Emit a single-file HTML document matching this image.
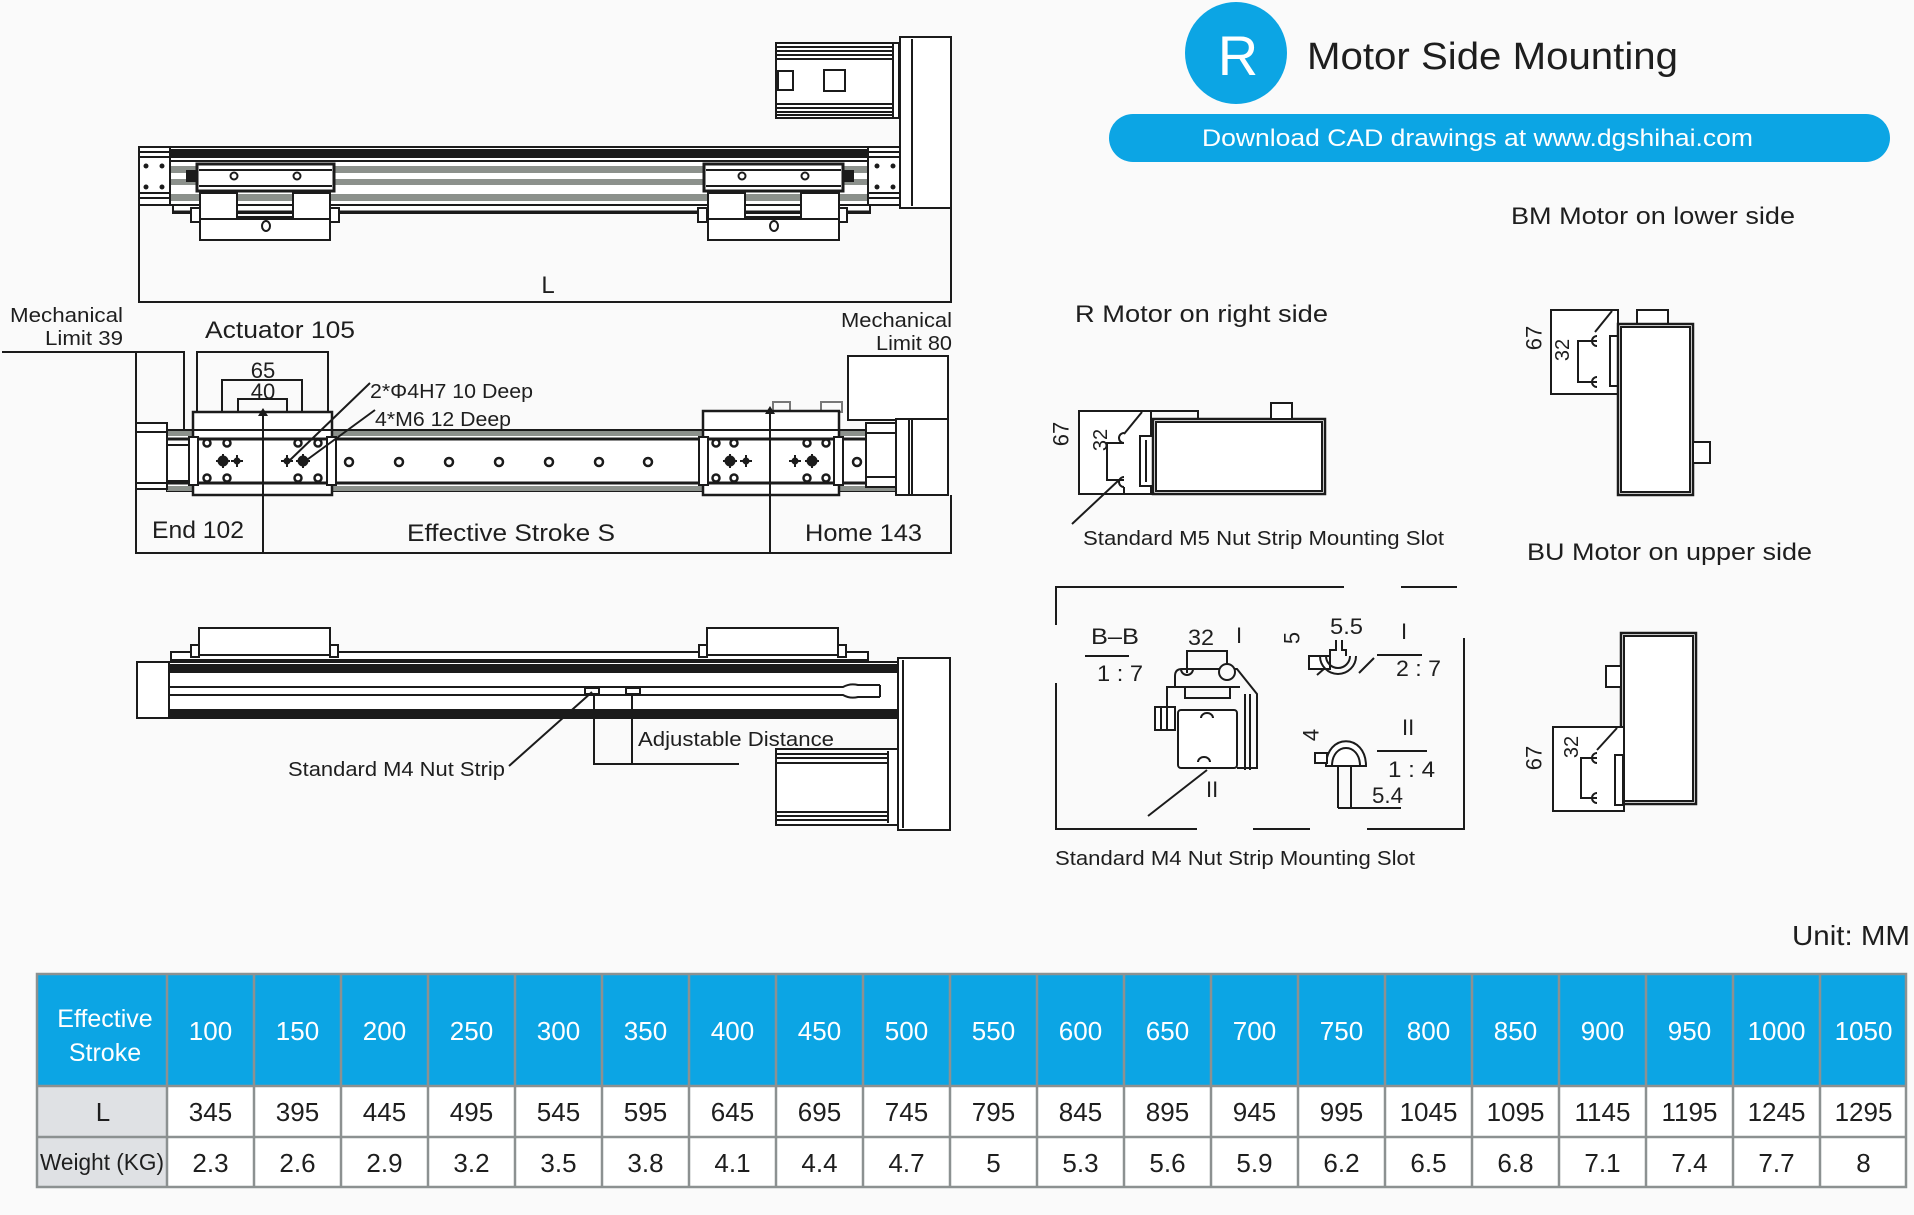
<!DOCTYPE html>
<html><head><meta charset="utf-8"><style>
html,body{margin:0;padding:0;background:#fafafa;}
svg{display:block;}
text{font-family:"Liberation Sans",sans-serif;fill:#1e1e1e;}
</style></head><body>
<svg width="1914" height="1215" viewBox="0 0 1914 1215" xmlns="http://www.w3.org/2000/svg">
<rect width="1914" height="1215" fill="#fafafa"/>

<!-- ================= TOP DRAWING ================= -->
<g stroke="#1b1b1b" stroke-width="2" fill="none">
  <!-- motor housing -->
  <rect x="776" y="43" width="123" height="75" fill="#fff"/>
  <path d="M776 47H893M776 51H893M776 55H893M776 59H893M776 104H893M776 108H893M776 112H893M776 115H893"/>
  <rect x="778" y="71" width="15" height="19"/>
  <rect x="824" y="70" width="21" height="21"/>
  <line x1="893" y1="44" x2="893" y2="117"/>
  <!-- plate -->
  <rect x="900" y="37" width="51" height="171" fill="#fff"/>
  <line x1="912" y1="39" x2="912" y2="206"/>
  <!-- rail -->
  <rect x="139" y="147" width="761" height="58" fill="#fff"/>
  <rect x="170" y="150" width="698" height="7" fill="#1b1b1b"/>
  <line x1="170" y1="161" x2="868" y2="161"/>
  <rect x="170" y="166" width="698" height="7" fill="#8c918c" stroke="none"/>
  <rect x="170" y="179" width="698" height="6" fill="#8c918c" stroke="none"/>
  <rect x="170" y="194" width="698" height="7" fill="#8c918c" stroke="none"/>
  <rect x="173" y="205" width="697" height="8" fill="#fff"/>
  <line x1="173" y1="212" x2="870" y2="212" stroke-width="3"/>
  <!-- end caps -->
  <rect x="139" y="147" width="31" height="58" fill="#fff"/>
  <path d="M139 152H170M139 157H170M139 193H170M139 198H170"/>
  <rect x="868" y="147" width="32" height="58" fill="#fff"/>
  <path d="M868 152H900M868 157H900M868 193H900M868 198H900"/>
</g>
<g fill="#1b1b1b">
  <circle cx="146" cy="166" r="2.5"/><circle cx="162" cy="166" r="2.5"/>
  <circle cx="146" cy="187" r="2.5"/><circle cx="162" cy="187" r="2.5"/>
  <circle cx="877" cy="166" r="2.5"/><circle cx="893" cy="166" r="2.5"/>
  <circle cx="877" cy="187" r="2.5"/><circle cx="893" cy="187" r="2.5"/>
</g>
<!-- carriages top view -->
<g stroke="#1b1b1b" stroke-width="2" fill="#fff">
  <g>
    <rect x="187" y="171" width="10" height="10" fill="#1b1b1b"/>
    <rect x="197" y="164" width="137" height="27" stroke-width="3"/>
    <line x1="199" y1="170" x2="332" y2="170"/>
    <line x1="199" y1="186" x2="332" y2="186"/>
    <circle cx="234" cy="176" r="3.5"/><circle cx="297" cy="176" r="3.5"/>
    <rect x="191" y="208" width="9" height="14"/><rect x="330" y="208" width="9" height="14"/>
    <path d="M200 193H237V217H293V193H330V240H200Z"/>
    <line x1="200" y1="219" x2="330" y2="219"/>
    <ellipse cx="266" cy="226" rx="4" ry="5"/>
  </g>
  <g>
    <rect x="843" y="171" width="10" height="10" fill="#1b1b1b"/>
    <rect x="704" y="164" width="139" height="27" stroke-width="3"/>
    <line x1="706" y1="170" x2="841" y2="170"/>
    <line x1="706" y1="186" x2="841" y2="186"/>
    <circle cx="742" cy="176" r="3.5"/><circle cx="805" cy="176" r="3.5"/>
    <rect x="698" y="208" width="9" height="14"/><rect x="838" y="208" width="9" height="14"/>
    <path d="M708 193H745V217H801V193H839V240H708Z"/>
    <line x1="708" y1="219" x2="839" y2="219"/>
    <ellipse cx="774" cy="226" rx="4" ry="5"/>
  </g>
</g>
<!-- L dimension -->
<g stroke="#1b1b1b" stroke-width="2">
  <line x1="139" y1="205" x2="139" y2="303"/>
  <line x1="951" y1="208" x2="951" y2="303"/>
  <line x1="138" y1="302" x2="952" y2="302"/>
</g>
<text x="548" y="293" font-size="24" text-anchor="middle">L</text>

<!-- ================= MIDDLE DRAWING ================= -->
<text x="123" y="322" font-size="20" text-anchor="end" textLength="113" lengthAdjust="spacingAndGlyphs">Mechanical</text>
<text x="123" y="345" font-size="20" text-anchor="end" textLength="78" lengthAdjust="spacingAndGlyphs">Limit 39</text>
<text x="205" y="338" font-size="24" textLength="150" lengthAdjust="spacingAndGlyphs">Actuator 105</text>
<text x="952" y="327" font-size="20" text-anchor="end" textLength="111" lengthAdjust="spacingAndGlyphs">Mechanical</text>
<text x="952" y="350" font-size="20" text-anchor="end" textLength="76" lengthAdjust="spacingAndGlyphs">Limit 80</text>
<text x="263" y="378" font-size="22" text-anchor="middle">65</text>
<text x="263" y="399" font-size="22" text-anchor="middle">40</text>
<text x="370" y="398" font-size="20" textLength="163" lengthAdjust="spacingAndGlyphs">2*Φ4H7  10 Deep</text>
<text x="375" y="426" font-size="20" textLength="136" lengthAdjust="spacingAndGlyphs">4*M6  12 Deep</text>

<g stroke="#1b1b1b" stroke-width="2" fill="none">
  <path d="M2 352H184V433"/>
  <line x1="136" y1="352" x2="136" y2="554"/>
  <path d="M197 412V352H328V412"/>
  <path d="M222 461V380H302V461"/>
  <path d="M238 461V399H287V461"/>
  <!-- mech limit 80 -->
  <rect x="848" y="356" width="100" height="64" fill="#fff"/>
  <!-- rail -->
  <rect x="167" y="430" width="732" height="61" fill="#fff"/>
  <rect x="167" y="431" width="732" height="5" fill="#8c918c" stroke="none"/>
  <rect x="167" y="486" width="732" height="5" fill="#8c918c" stroke="none"/>
  <line x1="167" y1="439" x2="866" y2="439" stroke-width="3"/>
  <line x1="167" y1="483" x2="866" y2="483" stroke-width="3"/>
  <!-- left cap -->
  <rect x="136" y="423" width="31" height="66" fill="#fff"/>
  <path d="M136 432H167M136 483H167"/>
  <rect x="167" y="445" width="22" height="36" fill="#fff"/>
  <!-- carriages -->
  <rect x="193" y="412" width="139" height="83" fill="#fff" stroke-width="2.5"/>
  <line x1="193" y1="430" x2="332" y2="430"/>
  <path d="M195 439H330M195 483H330" stroke-width="3"/>
  <rect x="189" y="437" width="9" height="48" fill="#fff"/>
  <rect x="327" y="437" width="9" height="48" fill="#fff"/>
  <rect x="773" y="402" width="17" height="10" stroke="#777"/>
  <rect x="821" y="402" width="21" height="10" stroke="#777"/>
  <rect x="703" y="411" width="136" height="84" fill="#fff" stroke-width="2.5"/>
  <line x1="703" y1="430" x2="839" y2="430"/>
  <path d="M705 439H837M705 483H837" stroke-width="3"/>
  <rect x="699" y="437" width="9" height="48" fill="#fff"/>
  <rect x="834" y="437" width="9" height="48" fill="#fff"/>
  <!-- coupling & motor plate -->
  <rect x="866" y="423" width="30" height="64" fill="#fff"/>
  <path d="M866 433H896M866 477H896"/>
  <rect x="896" y="419" width="52" height="76" fill="#fff"/>
  <path d="M909 419V495M912 419V495"/>
  <!-- arrows -->
  <line x1="263" y1="413" x2="263" y2="554"/>
  <line x1="770" y1="411" x2="770" y2="554"/>
  <!-- bottom dims -->
  <line x1="135" y1="553" x2="952" y2="553"/>
  <line x1="951" y1="495" x2="951" y2="554"/>
  <!-- leaders -->
  <line x1="370" y1="383" x2="289" y2="461"/>
  <line x1="375" y1="410" x2="304" y2="462"/>
</g>
<path d="M263 408L258 416H268Z M770 406L765 414H775Z" fill="#1b1b1b"/>
<g stroke="#1b1b1b" stroke-width="2.5" fill="#fff">
  <circle cx="349" cy="462" r="4"/><circle cx="399" cy="462" r="4"/><circle cx="449" cy="462" r="4"/>
  <circle cx="499" cy="462" r="4"/><circle cx="549" cy="462" r="4"/><circle cx="599" cy="462" r="4"/>
  <circle cx="648" cy="462" r="4"/><circle cx="857" cy="462" r="4"/>
  <circle cx="207" cy="443" r="3.5"/><circle cx="227" cy="443" r="3.5"/><circle cx="298" cy="443" r="3.5"/><circle cx="318" cy="443" r="3.5"/>
  <circle cx="207" cy="478" r="3.5"/><circle cx="227" cy="478" r="3.5"/><circle cx="298" cy="478" r="3.5"/><circle cx="318" cy="478" r="3.5"/>
  <circle cx="716" cy="443" r="3.5"/><circle cx="734" cy="443" r="3.5"/><circle cx="807" cy="443" r="3.5"/><circle cx="826" cy="443" r="3.5"/>
  <circle cx="716" cy="478" r="3.5"/><circle cx="734" cy="478" r="3.5"/><circle cx="807" cy="478" r="3.5"/><circle cx="826" cy="478" r="3.5"/>
</g>
<g fill="#1b1b1b" stroke="#1b1b1b" stroke-width="2">
  <circle cx="223" cy="461" r="4.5"/><path d="M216 461H230M223 454V468"/>
  <circle cx="237" cy="461" r="2.5"/><path d="M231 461H243M237 455V467"/>
  <circle cx="287" cy="461" r="2.5"/><path d="M281 461H293M287 455V467"/>
  <circle cx="303" cy="461" r="4.5"/><path d="M296 461H310M303 454V468"/>
  <circle cx="730" cy="461" r="4.5"/><path d="M723 461H737M730 454V468"/>
  <circle cx="746" cy="461" r="2.5"/><path d="M740 461H752M746 455V467"/>
  <circle cx="795" cy="461" r="2.5"/><path d="M789 461H801M795 455V467"/>
  <circle cx="812" cy="461" r="4.5"/><path d="M805 461H819M812 454V468"/>
</g>
<text x="152" y="538" font-size="24" textLength="92" lengthAdjust="spacingAndGlyphs">End 102</text>
<text x="407" y="541" font-size="24" textLength="208" lengthAdjust="spacingAndGlyphs">Effective Stroke S</text>
<text x="805" y="541" font-size="24" textLength="117" lengthAdjust="spacingAndGlyphs">Home 143</text>

<!-- ================= BOTTOM DRAWING ================= -->
<g stroke="#1b1b1b" stroke-width="2" fill="#fff">
  <!-- carriages -->
  <rect x="171" y="652" width="697" height="8"/>
  <rect x="199" y="628" width="131" height="27"/>
  <rect x="191" y="645" width="8" height="12"/><rect x="330" y="645" width="8" height="12"/>
  <rect x="707" y="628" width="131" height="27"/>
  <rect x="699" y="645" width="8" height="12"/><rect x="838" y="645" width="8" height="12"/>
  <!-- rail -->
  <rect x="137" y="662" width="761" height="56"/>
  <rect x="137" y="662" width="32" height="56"/>
  <rect x="169" y="665" width="729" height="7" fill="#1b1b1b"/>
  <rect x="169" y="710" width="729" height="6" fill="#1b1b1b"/>
  <path d="M169 687H843Q850 683 858 685H880M169 695H843Q850 699 858 697H880" fill="none"/>
  <line x1="880" y1="685" x2="880" y2="697"/>
  <rect x="585" y="688" width="14" height="6"/>
  <rect x="626" y="688" width="14" height="6"/>
  <!-- motor housing -->
  <rect x="776" y="749" width="122" height="76"/>
  <path d="M776 754H888M776 758H888M776 763H888M776 812H888M776 816H888M776 820H888M888 751V823" fill="none"/>
  <!-- plate -->
  <rect x="898" y="658" width="52" height="172"/>
  <line x1="903" y1="660" x2="903" y2="828"/>
</g>
<g stroke="#1b1b1b" stroke-width="2" fill="none">
  <line x1="592" y1="692" x2="509" y2="766"/>
  <path d="M594 694V764H739"/>
  <line x1="632" y1="694" x2="632" y2="764"/>
</g>
<text x="288" y="776" font-size="20" textLength="217" lengthAdjust="spacingAndGlyphs">Standard M4 Nut Strip</text>
<text x="638" y="746" font-size="20" textLength="196" lengthAdjust="spacingAndGlyphs">Adjustable Distance</text>

<!-- ================= HEADER RIGHT ================= -->
<circle cx="1236" cy="53" r="51" fill="#0ca5e4"/>
<text x="1238" y="75" font-size="56" text-anchor="middle" style="fill:#fff">R</text>
<text x="1307" y="69" font-size="38" textLength="371" lengthAdjust="spacingAndGlyphs">Motor Side Mounting</text>
<rect x="1109" y="114" width="781" height="48" rx="24" fill="#0ca5e4"/>
<text x="1202" y="146" font-size="24" textLength="551" lengthAdjust="spacingAndGlyphs" style="fill:#fff">Download CAD drawings at www.dgshihai.com</text>

<text x="1511" y="224" font-size="24" textLength="284" lengthAdjust="spacingAndGlyphs">BM   Motor on lower side</text>
<text x="1075" y="322" font-size="24" textLength="253" lengthAdjust="spacingAndGlyphs">R   Motor on right side</text>
<text x="1527" y="560" font-size="24" textLength="285" lengthAdjust="spacingAndGlyphs">BU   Motor on upper side</text>
<text x="1083" y="545" font-size="20" textLength="361" lengthAdjust="spacingAndGlyphs">Standard M5 Nut Strip Mounting Slot</text>
<text x="1055" y="865" font-size="20" textLength="360" lengthAdjust="spacingAndGlyphs">Standard M4 Nut Strip Mounting Slot</text>

<!-- R drawing -->
<g stroke="#1b1b1b" stroke-width="2" fill="none">
  <rect x="1079" y="411" width="72" height="83" fill="#fff"/>
  <rect x="1151" y="411" width="47" height="8"/>
  <line x1="1142" y1="412" x2="1124" y2="434"/>
  <path d="M1124 433A5 5 0 0 0 1124 443M1124 477A5 5 0 0 0 1124 487"/>
  <path d="M1124 443H1107V480H1124"/>
  <line x1="1124" y1="487" x2="1124" y2="494"/>
  <rect x="1140" y="436" width="13" height="50" fill="#fff"/>
  <line x1="1146" y1="440" x2="1146" y2="482"/>
  <rect x="1153" y="419" width="172" height="75" fill="#fff" stroke-width="2.5"/>
  <rect x="1156" y="422" width="166" height="69"/>
  <rect x="1271" y="403" width="21" height="16" fill="#fff"/>
  <line x1="1072" y1="524" x2="1119" y2="480"/>
</g>
<text x="1061" y="434" font-size="22" text-anchor="middle" dominant-baseline="central" transform="rotate(-90 1061 434)">67</text>
<text x="1101" y="440" font-size="20" text-anchor="middle" dominant-baseline="central" transform="rotate(-90 1101 440)">32</text>

<!-- BM drawing -->
<g stroke="#1b1b1b" stroke-width="2" fill="none">
  <rect x="1551" y="310" width="67" height="84" fill="#fff"/>
  <rect x="1637" y="310" width="31" height="14" fill="#fff"/>
  <line x1="1612" y1="311" x2="1595" y2="332"/>
  <path d="M1597 336A5 5 0 0 0 1597 346M1597 377A5 5 0 0 0 1597 387"/>
  <path d="M1597 341H1578V382H1597"/>
  <rect x="1610" y="336" width="8" height="50" fill="#fff"/>
  <rect x="1618" y="324" width="75" height="171" fill="#fff" stroke-width="2.5"/>
  <rect x="1621" y="327" width="69" height="165"/>
  <rect x="1693" y="442" width="17" height="21" fill="#fff"/>
</g>
<text x="1534" y="338" font-size="22" text-anchor="middle" dominant-baseline="central" transform="rotate(-90 1534 338)">67</text>
<text x="1563" y="350" font-size="20" text-anchor="middle" dominant-baseline="central" transform="rotate(-90 1563 350)">32</text>

<!-- BU drawing -->
<g stroke="#1b1b1b" stroke-width="2" fill="none">
  <rect x="1621" y="633" width="75" height="171" fill="#fff" stroke-width="2.5"/>
  <rect x="1624" y="636" width="69" height="165"/>
  <rect x="1606" y="666" width="15" height="21" fill="#fff"/>
  <rect x="1553" y="727" width="71" height="84" fill="#fff"/>
  <line x1="1617" y1="728" x2="1597" y2="750"/>
  <path d="M1597 753A5 5 0 0 0 1597 763M1597 793A5 5 0 0 0 1597 803"/>
  <path d="M1597 758H1581V798H1597"/>
  <rect x="1615" y="755" width="8" height="50" fill="#fff"/>
</g>
<text x="1534" y="758" font-size="22" text-anchor="middle" dominant-baseline="central" transform="rotate(-90 1534 758)">67</text>
<text x="1572" y="747" font-size="20" text-anchor="middle" dominant-baseline="central" transform="rotate(-90 1572 747)">32</text>

<!-- B-B section frame -->
<g stroke="#1b1b1b" stroke-width="2" fill="none">
  <path d="M1056 625V587H1344"/>
  <path d="M1401 587H1457"/>
  <path d="M1056 683V829H1197"/>
  <path d="M1253 829H1310"/>
  <path d="M1367 829H1464V638"/>
  <!-- BB labels underline -->
  <line x1="1085" y1="656" x2="1129" y2="656"/>
  <line x1="1377" y1="655" x2="1422" y2="655"/>
  <line x1="1377" y1="751" x2="1427" y2="751"/>
  <!-- 32 dim -->
  <path d="M1187 673V651H1227V673"/>
  <!-- section -->
  <path d="M1167 713V687H1175V676Q1175 669 1182 669H1237L1257 694V768H1237"/>
  <circle cx="1227" cy="672" r="8" fill="#fafafa"/>
  <path d="M1181 669A6 6 0 0 0 1193 669"/>
  <path d="M1175 687H1240M1185 687V698H1230V687"/>
  <path d="M1245 694V770M1250 694V770"/>
  <rect x="1178" y="710" width="59" height="58" rx="3" fill="#fff"/>
  <path d="M1201 718A6 5 0 0 1 1213 718M1198 762A6 5 0 0 1 1210 762"/>
  <rect x="1155" y="707" width="20" height="23" fill="#fff"/>
  <path d="M1161 707V730M1167 707V730"/>
  <line x1="1207" y1="770" x2="1148" y2="816"/>
  <!-- detail I -->
  <rect x="1309" y="656" width="21" height="13" fill="#fff"/>
  <path d="M1320 656A18 18 0 0 0 1356 656"/>
  <path d="M1326 656A12 12 0 0 0 1350 656"/>
  <path d="M1330 656V650H1336V640M1346 656V650H1342V640"/>
  <path d="M1317 675L1325 668M1359 673L1374 658"/>
  <!-- detail II -->
  <path d="M1326 766C1326 733 1366 733 1366 766Z" fill="#fff"/>
  <path d="M1332 766C1332 742 1360 742 1360 766"/>
  <rect x="1315" y="753" width="12" height="10" fill="#fff"/>
  <path d="M1338 766V808M1351 766V808"/>
  <line x1="1338" y1="808" x2="1401" y2="808"/>
</g>
<g font-size="22">
  <text x="1091" y="644" textLength="48" lengthAdjust="spacingAndGlyphs">B–B</text>
  <text x="1097" y="681" textLength="46" lengthAdjust="spacingAndGlyphs">1 : 7</text>
  <text x="1188" y="645" textLength="26" lengthAdjust="spacingAndGlyphs">32</text>
  <text x="1236" y="643">I</text>
  <text x="1330" y="634" textLength="33" lengthAdjust="spacingAndGlyphs">5.5</text>
  <text x="1401" y="639">I</text>
  <text x="1396" y="676" textLength="45" lengthAdjust="spacingAndGlyphs">2 : 7</text>
  <text x="1402" y="735">II</text>
  <text x="1388" y="777" textLength="47" lengthAdjust="spacingAndGlyphs">1 : 4</text>
  <text x="1372" y="803" textLength="31" lengthAdjust="spacingAndGlyphs">5.4</text>
  <text x="1206" y="797">II</text>
  <text x="1292" y="638" text-anchor="middle" dominant-baseline="central" transform="rotate(-90 1292 638)">5</text>
  <text x="1311" y="735" text-anchor="middle" dominant-baseline="central" transform="rotate(-90 1311 735)">4</text>
</g>

<!-- ================= TABLE ================= -->
<text x="1910" y="945" font-size="28" text-anchor="end" textLength="118" lengthAdjust="spacingAndGlyphs">Unit: MM</text>
<rect x="37" y="974" width="1869" height="112" fill="#0ca5e4"/>
<rect x="37" y="1086" width="1869" height="101" fill="#fff"/>
<rect x="37" y="1086" width="130" height="101" fill="#dfe1e4"/>
<g stroke="#8c9191" stroke-width="2.5" fill="none">
  <rect x="37" y="974" width="1869" height="213"/>
  <line x1="37" y1="1086" x2="1906" y2="1086"/>
  <line x1="37" y1="1137" x2="1906" y2="1137"/>
  <path d="M167 974V1187M254 974V1187M341 974V1187M428 974V1187M515 974V1187M602 974V1187M689 974V1187M776 974V1187M863 974V1187M950 974V1187M1037 974V1187M1124 974V1187M1211 974V1187M1298 974V1187M1385 974V1187M1472 974V1187M1559 974V1187M1646 974V1187M1733 974V1187M1820 974V1187"/>
</g>
<g font-size="25" text-anchor="middle" style="fill:#fff">
  <text x="105" y="1027" style="fill:#fff">Effective</text>
  <text x="105" y="1061" style="fill:#fff">Stroke</text>
</g>
<g font-size="26" text-anchor="middle">
  <text x="210.5" y="1040" style="fill:#fff">100</text>
  <text x="297.5" y="1040" style="fill:#fff">150</text>
  <text x="384.5" y="1040" style="fill:#fff">200</text>
  <text x="471.5" y="1040" style="fill:#fff">250</text>
  <text x="558.5" y="1040" style="fill:#fff">300</text>
  <text x="645.5" y="1040" style="fill:#fff">350</text>
  <text x="732.5" y="1040" style="fill:#fff">400</text>
  <text x="819.5" y="1040" style="fill:#fff">450</text>
  <text x="906.5" y="1040" style="fill:#fff">500</text>
  <text x="993.5" y="1040" style="fill:#fff">550</text>
  <text x="1080.5" y="1040" style="fill:#fff">600</text>
  <text x="1167.5" y="1040" style="fill:#fff">650</text>
  <text x="1254.5" y="1040" style="fill:#fff">700</text>
  <text x="1341.5" y="1040" style="fill:#fff">750</text>
  <text x="1428.5" y="1040" style="fill:#fff">800</text>
  <text x="1515.5" y="1040" style="fill:#fff">850</text>
  <text x="1602.5" y="1040" style="fill:#fff">900</text>
  <text x="1689.5" y="1040" style="fill:#fff">950</text>
  <text x="1776.5" y="1040" style="fill:#fff">1000</text>
  <text x="1863.5" y="1040" style="fill:#fff">1050</text>

  <text x="103" y="1121">L</text>
  <text x="210.5" y="1121">345</text>
  <text x="297.5" y="1121">395</text>
  <text x="384.5" y="1121">445</text>
  <text x="471.5" y="1121">495</text>
  <text x="558.5" y="1121">545</text>
  <text x="645.5" y="1121">595</text>
  <text x="732.5" y="1121">645</text>
  <text x="819.5" y="1121">695</text>
  <text x="906.5" y="1121">745</text>
  <text x="993.5" y="1121">795</text>
  <text x="1080.5" y="1121">845</text>
  <text x="1167.5" y="1121">895</text>
  <text x="1254.5" y="1121">945</text>
  <text x="1341.5" y="1121">995</text>
  <text x="1428.5" y="1121">1045</text>
  <text x="1515.5" y="1121">1095</text>
  <text x="1602.5" y="1121">1145</text>
  <text x="1689.5" y="1121">1195</text>
  <text x="1776.5" y="1121">1245</text>
  <text x="1863.5" y="1121">1295</text>

  <text x="102" y="1170" font-size="23" textLength="124" lengthAdjust="spacingAndGlyphs">Weight (KG)</text>
  <text x="210.5" y="1172">2.3</text>
  <text x="297.5" y="1172">2.6</text>
  <text x="384.5" y="1172">2.9</text>
  <text x="471.5" y="1172">3.2</text>
  <text x="558.5" y="1172">3.5</text>
  <text x="645.5" y="1172">3.8</text>
  <text x="732.5" y="1172">4.1</text>
  <text x="819.5" y="1172">4.4</text>
  <text x="906.5" y="1172">4.7</text>
  <text x="993.5" y="1172">5</text>
  <text x="1080.5" y="1172">5.3</text>
  <text x="1167.5" y="1172">5.6</text>
  <text x="1254.5" y="1172">5.9</text>
  <text x="1341.5" y="1172">6.2</text>
  <text x="1428.5" y="1172">6.5</text>
  <text x="1515.5" y="1172">6.8</text>
  <text x="1602.5" y="1172">7.1</text>
  <text x="1689.5" y="1172">7.4</text>
  <text x="1776.5" y="1172">7.7</text>
  <text x="1863.5" y="1172">8</text>
</g>
</svg>
</body></html>
